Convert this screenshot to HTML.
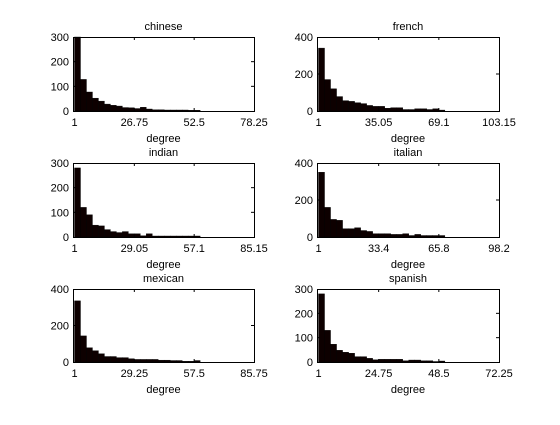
<!DOCTYPE html>
<html><head><meta charset="utf-8"><style>
body{margin:0;background:#fff}
svg text{font-family:"Liberation Sans",sans-serif;font-size:11px;fill:#000}
</style></head><body>
<svg id="fig" width="560" height="420" xmlns="http://www.w3.org/2000/svg"></svg>
<script>
const panelNames = ["chinese","french","indian","italian","mexican","spanish"];
const xMaxes = [78.25,103.15,85.15,98.2,85.75,72.25];
const yMaxes = [300,400,300,400,400,300];
const chineseCounts = [330,128,77,52,40,28,23,20,14,13,10,15,8,5,5,4,4,4,4,3,3,0,0,0,0,0,0,0,0,0];
const frenchCounts = [340,170,120,78,56,52,45,40,30,25,25,15,18,18,8,8,12,12,8,12,5,0,0,0,0,0,0,0,0,0];
const indianCounts = [280,120,90,48,45,30,22,18,22,13,13,5,13,4,4,4,4,4,4,4,4,0,0,0,0,0,0,0,0,0];
const italianCounts = [350,160,95,90,45,45,50,35,30,18,18,18,14,14,18,8,14,8,8,8,8,0,0,0,0,0,0,0,0,0];
const mexicanCounts = [335,143,78,62,45,30,30,24,24,18,14,14,14,14,10,10,8,8,4,4,8,0,0,0,0,0,0,0,0,0];
const spanishCounts = [280,130,73,48,40,36,22,22,15,9,11,11,11,11,5,8,8,5,5,2,4,0,0,0,0,0,0,0,0,0];
const allCounts = [chineseCounts,frenchCounts,indianCounts,italianCounts,mexicanCounts,spanishCounts];

const NS="http://www.w3.org/2000/svg";
const svg=document.getElementById('fig');
function mk(tag,attrs,parent){const e=document.createElementNS(NS,tag);for(const k in attrs)e.setAttribute(k,attrs[k]);(parent||svg).appendChild(e);return e;}
const cols=[[73,254],[317,499]];
const rows=[[37,111],[163,237],[289,362]];
panelNames.forEach((name,i)=>{
  const [x0,x1]=cols[i%2],[y0,y1]=rows[Math.floor(i/2)];
  const g=mk('g',{});
  
  
  const xmin=1,xmax=xMaxes[i],ymax=yMaxes[i];
  const xs=v=>x0+1.5+(v-xmin)/(xmax-xmin)*(x1-x0-1.5);
  const ys=v=>y1-Math.min(v,ymax)/ymax*(y1-y0);
  const counts=allCounts[i];const bw=(xmax-xmin)/counts.length;
  counts.forEach((c,j)=>{
    if(c<=0)return;
    const a=xs(xmin+j*bw),b=xs(xmin+(j+1)*bw);
    const r=mk('rect',{x:a,y:ys(c),width:b-a,height:y1-ys(c),fill:'#0d0000',stroke:'#000','stroke-width':0.4},g);
    
    
  });
  const fr=mk('rect',{x:x0+0.5,y:y0+0.5,width:x1-x0,height:y1-y0,fill:'none',stroke:'#000','stroke-width':1},g);
  
  
  const step=(xmax-xmin)/3;
  for(let k=0;k<4;k++){
    const v=xmin+k*step,x=xs(v);
    if(k>0&&k<3){mk('line',{x1:x,x2:x,y1:y1,y2:y1-3,stroke:'#000'},g);mk('line',{x1:x,x2:x,y1:y0,y2:y0+3,stroke:'#000'},g);}
    const t=mk('text',{x:x,y:y1+15,'text-anchor':'middle'},g);
    t.textContent=String(Math.round(v*100)/100);
    
    
  }
  const ystep=ymax===400?200:100;
  for(let v=0;v<=ymax;v+=ystep){
    const y=ys(v);
    if(v>0&&v<ymax){mk('line',{x1:x0,x2:x0+3,y1:y,y2:y,stroke:'#000'},g);mk('line',{x1:x1,x2:x1-3,y1:y,y2:y,stroke:'#000'},g);}
    const t=mk('text',{x:x0-4,y:y+4,'text-anchor':'end'},g);
    t.textContent=String(v);
    
    
  }
  const tt=mk('text',{x:(x0+x1)/2,y:y0-7,'text-anchor':'middle'},g);
  tt.textContent=name;
  
  
  const xl=mk('text',{x:(x0+x1)/2,y:y1+31,'text-anchor':'middle'},g);
  xl.textContent='degree';
  
  
});
</script>
</body></html>
